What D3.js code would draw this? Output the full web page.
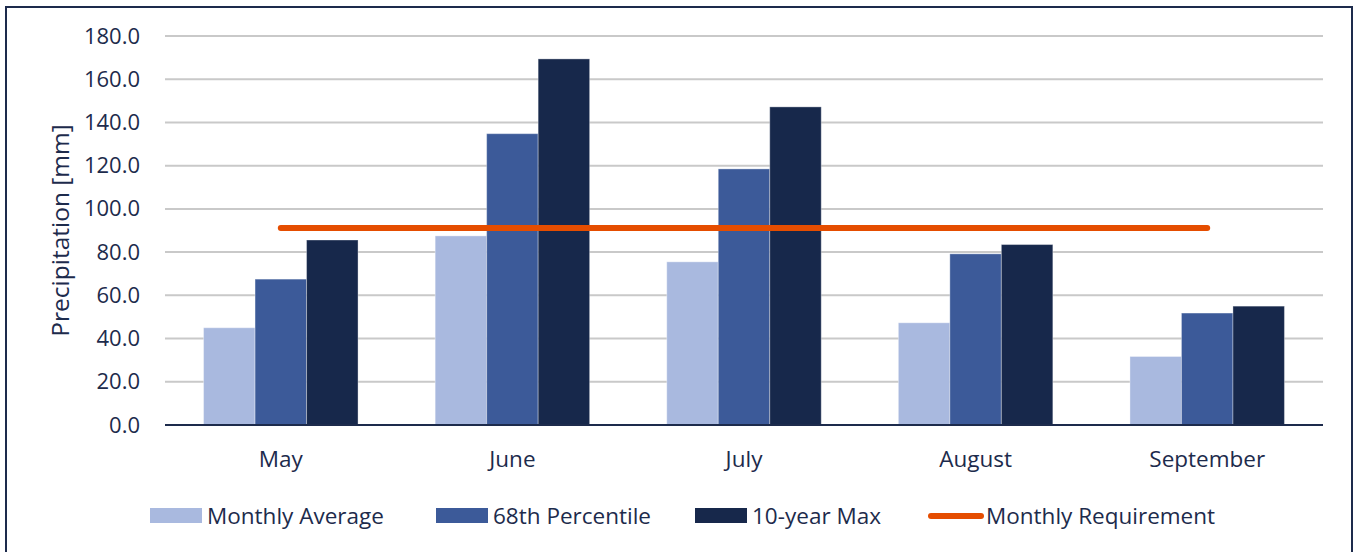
<!DOCTYPE html>
<html>
<head>
<meta charset="utf-8">
<script src="https://cdn.jsdelivr.net/npm/d3@7"></script>
<style>
  body { margin: 0; background: #fff; }
  svg text { font-family: "Open Sans", "Noto Sans", sans-serif; fill: #1d2b4c; }
</style>
</head>
<body>
<svg id="chart"></svg>
<script>
// data
const months = ["May", "June", "July", "August", "September"];
const seriesNames = ["Monthly Average", "68th Percentile", "10-year Max"];
const monthlyAverage = [45.0, 87.5, 75.5, 47.3, 31.7];
const percentile68 = [67.5, 134.8, 118.5, 79.2, 51.8];
const tenYearMax = [85.6, 169.4, 147.2, 83.5, 55.0];
const requirement = [91.2, 91.2, 91.2, 91.2, 91.2];
const yTicks = [0, 20, 40, 60, 80, 100, 120, 140, 160, 180];

const colors = ["#a9b9df", "#3c5a99", "#17284b"];
const lineColor = "#e54d00";
const textColor = "#1d2b4c";

const width = 1354, height = 552;
const margin = { top: 36, right: 31, bottom: 127, left: 165 };
const innerWidth = width - margin.left - margin.right;
const innerHeight = height - margin.top - margin.bottom;

const svg = d3.select("#chart").attr("width", width).attr("height", height);

// outer frame (bottom edge is off the picture)
const frame = svg.append("g")
  .attr("stroke", "#1d2b4c")
  .attr("stroke-width", 2);
frame.append("line").attr("x1", 6).attr("x2", 6).attr("y1", 7).attr("y2", height);
frame.append("line").attr("x1", 5).attr("x2", 1353).attr("y1", 7).attr("y2", 7);
frame.append("line").attr("x1", 1352).attr("x2", 1352).attr("y1", 7).attr("y2", height);

const g = svg.append("g").attr("transform", `translate(${margin.left},${margin.top})`);

const x0 = d3.scaleBand().domain(months).range([0, innerWidth]).paddingInner(0.333).paddingOuter(0.1665);
const x1 = d3.scaleBand().domain(seriesNames).range([0, x0.bandwidth()]);
const y = d3.scaleLinear().domain([0, 180]).range([innerHeight, 0]);
const xc = d3.scalePoint().domain(months).range([0, innerWidth]).padding(0.5);

// gridlines
g.append("g")
  .selectAll("line")
  .data(yTicks.filter(d => d > 0))
  .enter().append("line")
  .attr("x1", 0).attr("x2", innerWidth)
  .attr("y1", d => y(d)).attr("y2", d => y(d))
  .attr("stroke", "#c9c9c9")
  .attr("stroke-width", 2);

// y axis labels
const yAxis = d3.axisLeft(y).tickValues(yTicks).tickFormat(d3.format(".1f")).tickSize(0).tickPadding(25);
g.append("g")
  .call(yAxis)
  .call(s => s.select(".domain").remove())
  .selectAll("text")
  .style("font-size", "22px")
  .attr("fill", textColor);

// bars
const rows = months.map((m, i) => ({
  month: m,
  values: [monthlyAverage[i], percentile68[i], tenYearMax[i]]
}));

const groups = g.selectAll(".group")
  .data(rows)
  .enter().append("g")
  .attr("class", "group")
  .attr("transform", d => `translate(${x0(d.month)},0)`);

groups.selectAll("rect")
  .data(d => d.values.map((v, j) => ({ name: seriesNames[j], value: v, j })))
  .enter().append("rect")
  .attr("x", d => x1(d.name))
  .attr("width", x1.bandwidth())
  .attr("y", d => y(d.value))
  .attr("height", d => innerHeight - y(d.value))
  .attr("fill", d => colors[d.j])
  .attr("stroke", "#ffffff")
  .attr("stroke-opacity", 0.35)
  .attr("stroke-width", 1);

// baseline
g.append("line")
  .attr("x1", 0).attr("x2", innerWidth)
  .attr("y1", y(0)).attr("y2", y(0))
  .attr("stroke", "#1d2b4c")
  .attr("stroke-width", 2);

// x axis labels
const xAxis = d3.axisBottom(x0).tickSize(0).tickPadding(26);
g.append("g")
  .attr("transform", `translate(0,${innerHeight})`)
  .call(xAxis)
  .call(s => s.select(".domain").remove())
  .selectAll("text")
  .style("font-size", "22.5px")
  .attr("fill", textColor);

// requirement line
const line = d3.line()
  .x((d, i) => xc(months[i]))
  .y(d => y(d));

g.append("path")
  .datum(requirement)
  .attr("fill", "none")
  .attr("stroke", lineColor)
  .attr("stroke-width", 6)
  .attr("stroke-linecap", "round")
  .attr("d", line);

// y axis title
svg.append("text")
  .attr("transform", `translate(69,${margin.top + innerHeight / 2}) rotate(-90)`)
  .attr("text-anchor", "middle")
  .style("font-size", "24.5px")
  .text("Precipitation [mm]");

// legend
const legendY = 516;
const legendItems = [
  { name: seriesNames[0], type: "rect", color: colors[0], x: 150 },
  { name: seriesNames[1], type: "rect", color: colors[1], x: 436 },
  { name: seriesNames[2], type: "rect", color: colors[2], x: 695 },
  { name: "Monthly Requirement", type: "line", color: lineColor, x: 929 }
];

const legend = svg.append("g");
legendItems.forEach(item => {
  const li = legend.append("g").attr("transform", `translate(${item.x},${legendY})`);
  if (item.type === "rect") {
    li.append("rect")
      .attr("x", 0).attr("y", -8)
      .attr("width", 52).attr("height", 15)
      .attr("fill", item.color);
  } else {
    li.append("line")
      .attr("x1", 2).attr("x2", 52)
      .attr("y1", 0).attr("y2", 0)
      .attr("stroke", item.color)
      .attr("stroke-width", 6)
      .attr("stroke-linecap", "round");
  }
  li.append("text")
    .attr("x", 57)
    .attr("y", 0)
    .attr("dy", "0.35em")
    .style("font-size", "22.5px")
    .text(item.name);
});
</script>
</body>
</html>
